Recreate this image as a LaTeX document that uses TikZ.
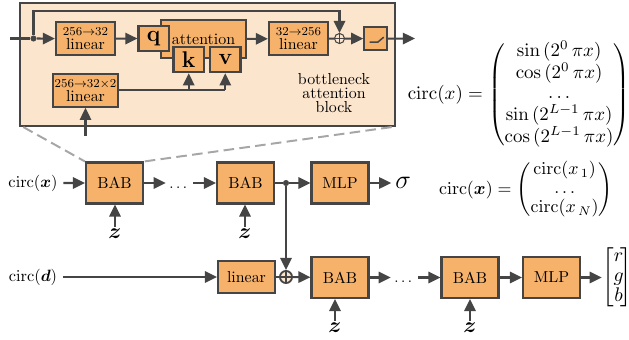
\documentclass[tikz,border=0pt]{standalone}
\usepackage{amsmath,amssymb,bm}
\usepackage{xcolor}
\usepackage{tikz}
\usetikzlibrary{arrows.meta,calc}
\definecolor{edge}{HTML}{454545}
\definecolor{block}{HTML}{F6B26B}
\definecolor{panelbg}{HTML}{FCE5CD}
\definecolor{zoomline}{HTML}{A6A6A6}
\newcommand{\circf}{\mathrm{circ}}
\tikzset{
  flow/.style={draw=edge,line width=1.35pt,-{Triangle[length=8pt,width=7.5pt]}},
  plainflow/.style={draw=edge,line width=1.35pt},
  bloc/.style={draw=edge,fill=block,line width=1.4pt,inner sep=0pt,align=center,
    font=\fontsize{10.5}{9.5}\selectfont},
  babbox/.style={bloc,minimum width=37.6pt,minimum height=27pt},
  linbox/.style={bloc,minimum width=39pt,minimum height=21.5pt},
  keybox/.style={bloc,minimum width=20pt,minimum height=16.5pt,font=\fontsize{15}{15}\selectfont\bfseries},
  dotnode/.style={circle,fill=edge,inner sep=0pt,minimum size=4pt},
  sumnode/.style={circle,draw=edge,fill=panelbg,inner sep=0pt,minimum size=#1,
    path picture={\draw[edge] (path picture bounding box.north)--(path picture bounding box.south)
      (path picture bounding box.west)--(path picture bounding box.east);}},
  gap/.style={inner sep=0pt,minimum width=17.8pt,minimum height=10pt,text height=7pt,text depth=0pt},
  zoomdash/.style={dash pattern=on 7pt off 3.5pt,zoomline,line width=1.3pt},
}
\begin{document}
\begin{tikzpicture}[x=0.66pt,y=-0.66pt]
  \useasboundingbox (0,0) rectangle (629,340);
  % zoomed block
  \node[draw=edge,fill=panelbg,line width=1.6pt,inner sep=0pt,minimum width=247.5pt,minimum height=81pt] (panel) at (207.5,64.5) {};
  \coordinate (inL) at (10,38.5);
  \coordinate (outR) at (415,38.5);
  \coordinate (loopA) at (33.5,11);
  \coordinate (loopB) at (339.5,11);
  \coordinate (condIn) at (85.5,136);
  \coordinate (condKnee) at (225.3,90);
  \node[dotnode] (dotIn) at (33.5,38.5) {};
  \node[linbox] (linA) at (85.5,38.7) {\fontsize{8}{8}\selectfont $256{\rightarrow}32$\\linear};
  \node[bloc,minimum width=56pt,minimum height=25pt] (attn) at (203.5,39) {attention};
  \node[keybox] (keyQ) at (153.7,38.5) {q};
  \node[keybox] (keyK) at (188.7,59.7) {k};
  \node[keybox] (keyV) at (225.3,59.7) {v};
  \node[linbox] (linB) at (298.5,38.7) {\fontsize{8}{8}\selectfont $32{\rightarrow}256$\\linear};
  \node[sumnode=6.6pt,line width=.7pt] (plusA) at (339.5,38.5) {};
  \node[bloc,minimum width=15pt,minimum height=15pt] (act) at (375.7,38.7) {};
  \draw[edge,line width=1pt] ([shift={(-6,3.5)}]act.center) -- ++(8,0) -- ++(6,-5);
  \node[linbox,minimum width=43pt] (linC) at (85.5,90.5) {\fontsize{8}{8}\selectfont $256{\rightarrow}32{\times}2$\\linear};
  \node[align=center,font=\fontsize{10.5}{9}\selectfont,inner sep=0pt] (bnLabel) at (334,93) {bottleneck\\attention\\block};
  \draw[plainflow] (inL) -- (dotIn);
  \draw[flow] (dotIn) -- (linA);
  \draw[flow] (dotIn) -- (loopA) -- (loopB) -- (plusA);
  \draw[flow] (linA) -- (keyQ);
  \draw[flow] (attn) -- (linB);
  \draw[plainflow] (linB) -- (plusA);
  \draw[flow] (plusA) -- (act);
  \draw[flow] (act) -- (outR);
  \draw[flow] (condIn) -- (linC);
  \draw[plainflow] (linC.east |- condKnee) -- (condKnee);
  \draw[flow] (keyK |- condKnee) -- (keyK);
  \draw[flow] (condKnee) -- (keyV);
  % upper row
  \node[scale=1.08] (circX) at (33,183) {$\circf(\bm{x})$};
  \node[babbox] (babA) at (114.5,183) {BAB};
  \node[gap] (dotsA) at (179.5,183) {$\dots$};
  \node[babbox] (babB) at (245.5,183) {BAB};
  \node[dotnode] (dotOut) at (286,183) {};
  \node[babbox] (mlpA) at (340,183) {MLP};
  \node[inner sep=2.5pt] (sigmaOut) at (403,183) {\LARGE$\sigma$};
  \draw[zoomdash] ([xshift=3pt]panel.south west) -- (babA.north west);
  \draw[zoomdash] ([xshift=-3pt]panel.south east) -- (babA.north east);
  \draw[flow] (circX) -- (babA);
  \draw[flow] (babA) -- (dotsA);
  \draw[flow] (dotsA) -- (babB);
  \draw[plainflow] (babB) -- (dotOut);
  \draw[flow] (dotOut) -- (mlpA);
  \draw[flow] (mlpA) -- (sigmaOut);
  % lower row
  \node[scale=1.08] (circD) at (33,277) {$\circf(\bm{d})$};
  \node[linbox,minimum width=37.6pt] (linD) at (246.5,277) {linear};
  \node[sumnode=8pt,line width=1.2pt] (plusB) at (286,277) {};
  \node[babbox] (babC) at (340,277.5) {BAB};
  \node[gap] (dotsB) at (404.5,277.5) {$\dots$};
  \node[babbox] (babD) at (470,277.5) {BAB};
  \node[babbox] (mlpB) at (551.5,277.5) {MLP};
  \node[inner sep=0pt,scale=1.3] (rgbOut) at (617,277.5) {\renewcommand{\arraystretch}{.85}$\begin{bmatrix}r\!\\g\!\\b\!\end{bmatrix}$};
  \draw[flow] (circD) -- (linD);
  \draw[plainflow] (linD) -- (plusB);
  \draw[flow] (dotOut) -- (plusB);
  \draw[flow] (plusB) -- (babC);
  \draw[flow] (babC) -- (dotsB);
  \draw[flow] (dotsB) -- (babD);
  \draw[flow] (babD) -- (mlpB);
  \draw[flow] (mlpB) -- (rgbOut);
  % latent inputs
  \foreach \bab/\zx/\zy in {babA/115/234,babB/245/234,babC/335/328,babD/470/328}{
    \node[inner sep=1.5pt] (z\bab) at (\zx,\zy) {\Large$\bm{z}$};
    \draw[flow] (z\bab) -- (\bab.south -| z\bab);
  }
  % encodings
  \node[scale=1.25,inner sep=0pt] (eqCirc) at (519,95) {\renewcommand{\arraystretch}{.9}$\circf(x)=\begin{pmatrix}\sin\,(2^{0}\,\pi x)\\\cos\,(2^{0}\,\pi x)\\\dots\\\sin\,(2^{L-1}\,\pi x)\\\cos\,(2^{L-1}\,\pi x)\end{pmatrix}$};
  \node[scale=1.18,inner sep=0pt] (eqVec) at (526,190) {\renewcommand{\arraystretch}{.88}$\circf(\bm{x})=\begin{pmatrix}\circf(x_{\,1})\\\dots\\\circf(x_{\,N})\end{pmatrix}$};
\end{tikzpicture}
\end{document}
